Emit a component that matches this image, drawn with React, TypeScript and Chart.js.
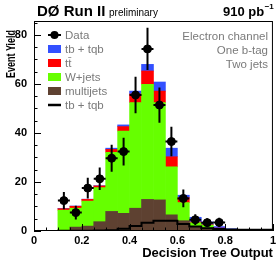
import React, { useEffect, useRef } from "react";
import { Chart, registerables } from "chart.js";

Chart.register(...registerables);

const FONT = '"Liberation Sans", Arial, Helvetica, sans-serif';

// 20 bins of width 0.05 on the Decision Tree Output axis
const binCenters = [
  0.025, 0.075, 0.125, 0.175, 0.225, 0.275, 0.325, 0.375, 0.425, 0.475,
  0.525, 0.575, 0.625, 0.675, 0.725, 0.775, 0.825, 0.875, 0.925, 0.975,
];
const binEdges = [
  0, 0.05, 0.1, 0.15, 0.2, 0.25, 0.3, 0.35, 0.4, 0.45, 0.5,
  0.55, 0.6, 0.65, 0.7, 0.75, 0.8, 0.85, 0.9, 0.95, 1.0,
];

// stacked backgrounds (bottom to top)
const multijets = [0, 0, 0.2, 1.6, 2.0, 3.8, 8.0, 7.2, 9.3, 12.9, 12.7, 6.6, 4.2, 1.8, 1.3, 0.5, 0.3, 0.2, 0.1, 0.1];
const wjets = [0, 0, 8.3, 7.7, 10.2, 13.9, 24.1, 33.6, 43.1, 47.0, 39.7, 19.6, 7.4, 1.6, 1.1, 0.5, 0.2, 0.1, 0.1, 0.05];
const ttbar = [0, 0, 0.6, 0.8, 0.7, 0.7, 1.2, 1.8, 3.5, 5.4, 4.7, 4.1, 2.0, 0.3, 0.2, 0.2, 0.1, 0.05, 0.05, 0.05];
const tbtqbStacked = [0, 0, 0.1, 0.1, 0.1, 0.1, 0.5, 0.7, 1.2, 2.7, 3.7, 3.5, 1.0, 1.9, 1.1, 0.6, 0.3, 0.2, 0.2, 0.2];

// unstacked signal outline
const tbtqbLine = [0.05, 0.05, 0.1, 0.1, 0.1, 0.2, 0.3, 0.9, 2.0, 3.4, 4.2, 4.2, 2.9, 1.8, 1.1, 0.8, 0.6, 0.5, 0.5, 0.5];

// data points
const dataX = [0.125, 0.175, 0.225, 0.275, 0.325, 0.375, 0.425, 0.475, 0.525, 0.575, 0.625, 0.675, 0.725, 0.775];
const dataY = [12.4, 7.5, 17.5, 21.3, 29.7, 32.4, 55.5, 74.3, 51.4, 36.5, 13.3, 4.6, 3.4, 3.5];
const dataErr = [3.5, 2.8, 4.2, 4.6, 5.5, 5.7, 7.4, 8.6, 7.2, 6.0, 3.6, 2.2, 1.8, 1.9];
const dataXErr = 0.025;

const xTicks = [0, 0.2, 0.4, 0.6, 0.8, 1];
const xTickLabels = ["0", "0.2", "0.4", "0.6", "0.8", "1"];
const yTicks = [0, 20, 40, 60, 80];
const yTickLabels = ["0", "20", "40", "60", "80"];

const COLORS = {
  tb: "#3350ff",
  tt: "#ff0000",
  wj: "#66ff00",
  mj: "#5e4131",
  text: "#7a7a7a",
};

const decorPlugin = {
  id: "decor",
  afterDatasetsDraw(chart: any) {
    const { ctx, scales } = chart;
    const x = scales.x;
    const y = scales.y;
    ctx.save();
    ctx.strokeStyle = "#000";
    ctx.lineWidth = 2;
    for (let i = 0; i < dataX.length; i++) {
      const px = x.getPixelForValue(dataX[i]);
      const py = y.getPixelForValue(dataY[i]);
      ctx.beginPath();
      ctx.moveTo(px, y.getPixelForValue(dataY[i] - dataErr[i]));
      ctx.lineTo(px, y.getPixelForValue(dataY[i] + dataErr[i]));
      ctx.moveTo(x.getPixelForValue(dataX[i] - dataXErr), py);
      ctx.lineTo(x.getPixelForValue(dataX[i] + dataXErr), py);
      ctx.stroke();
    }
    ctx.restore();
  },
  afterDraw(chart: any) {
    const { ctx, chartArea: a, scales } = chart;
    const x = scales.x;
    const y = scales.y;
    ctx.save();
    // frame
    ctx.strokeStyle = "#000";
    ctx.lineWidth = 1;
    ctx.strokeRect(a.left + 0.5, a.top + 0.5, a.right - a.left - 1, a.bottom - a.top - 1);
    // inward ticks
    ctx.beginPath();
    for (let v = 0; v <= y.max + 1e-9; v += 5) {
      const py = Math.round(y.getPixelForValue(v)) + 0.5;
      const len = v % 20 === 0 ? 7 : 3.5;
      ctx.moveTo(a.left, py);
      ctx.lineTo(a.left + len, py);
    }
    for (let k = 0; k <= 20; k++) {
      const v = k * 0.05;
      const px = Math.round(x.getPixelForValue(v)) + 0.5;
      const len = k % 4 === 0 ? 7 : 3.5;
      ctx.moveTo(px, a.bottom);
      ctx.lineTo(px, a.bottom - len);
    }
    ctx.stroke();

    // legend
    const ds = chart.data.datasets;
    const entries = [
      { label: ds[0].label, kind: "point", color: "#000" },
      { label: ds[5].label, kind: "box", color: ds[5].backgroundColor },
      { label: ds[4].label, kind: "box", color: ds[4].backgroundColor },
      { label: ds[3].label, kind: "box", color: ds[3].backgroundColor },
      { label: ds[2].label, kind: "box", color: ds[2].backgroundColor },
      { label: ds[1].label, kind: "line", color: "#000" },
    ];
    const lx = 48;
    const lw = 13;
    let ly = 35;
    ctx.font = `11.5px ${FONT}`;
    ctx.textBaseline = "middle";
    ctx.textAlign = "left";
    for (const e of entries) {
      if (e.kind === "box") {
        ctx.fillStyle = e.color;
        ctx.fillRect(lx, ly - 4, lw, 8);
      } else if (e.kind === "line") {
        ctx.strokeStyle = "#000";
        ctx.lineWidth = 2.5;
        ctx.beginPath();
        ctx.moveTo(lx, ly);
        ctx.lineTo(lx + lw, ly);
        ctx.stroke();
      } else {
        ctx.strokeStyle = "#000";
        ctx.lineWidth = 2;
        ctx.beginPath();
        ctx.moveTo(lx, ly);
        ctx.lineTo(lx + lw, ly);
        ctx.stroke();
        ctx.fillStyle = "#000";
        ctx.beginPath();
        ctx.arc(lx + lw / 2, ly, 4, 0, Math.PI * 2);
        ctx.fill();
      }
      ctx.fillStyle = COLORS.text;
      ctx.fillText(e.label, lx + lw + 4, ly + 0.5);
      ly += 14;
    }

    // channel text
    ctx.textAlign = "right";
    ctx.fillStyle = COLORS.text;
    ctx.fillText("Electron channel", 268, 37);
    ctx.fillText("One b-tag", 268, 51);
    ctx.fillText("Two jets", 268, 64.5);

    // header
    ctx.fillStyle = "#000";
    ctx.textAlign = "left";
    ctx.textBaseline = "alphabetic";
    ctx.font = `bold 15px ${FONT}`;
    ctx.fillText("DØ Run II", 37, 16);
    ctx.font = `10px ${FONT}`;
    ctx.fillText("preliminary", 109, 16);
    ctx.font = `bold 13px ${FONT}`;
    ctx.fillText("910 pb", 223, 16);
    const w = ctx.measureText("910 pb").width;
    ctx.font = `bold 8px ${FONT}`;
    ctx.fillText("\u22121", 223 + w + 0.5, 9);

    // axis titles
    ctx.font = `bold 13px ${FONT}`;
    ctx.textAlign = "right";
    ctx.fillText("Decision Tree Output", a.right, 257);
    ctx.save();
    ctx.translate(15, 30);
    ctx.rotate(-Math.PI / 2);
    const tw = ctx.measureText("Event Yield").width;
    ctx.scale(48 / tw, 1);
    ctx.textAlign = "right";
    ctx.fillText("Event Yield", 0, 0);
    ctx.restore();

    ctx.restore();
  },
};

export default function App() {
  const ref = useRef<HTMLCanvasElement | null>(null);

  useEffect(() => {
    document.body.style.margin = "0";
    const canvas = ref.current;
    if (!canvas) return;
    const bar = (label: string, values: number[], color: string) => ({
      type: "bar" as const,
      label,
      data: binCenters.map((x, i) => ({ x, y: values[i] })),
      backgroundColor: color,
      borderWidth: 0,
      stack: "bg",
      order: 2,
      barPercentage: 1,
      categoryPercentage: 1,
    });
    const chart = new Chart(canvas, {
      type: "bar",
      data: {
        datasets: [
          {
            type: "scatter",
            label: "Data",
            data: dataX.map((x, i) => ({ x, y: dataY[i] })),
            backgroundColor: "#000",
            borderColor: "#000",
            pointRadius: 4,
            pointHoverRadius: 4,
            order: 0,
          } as any,
          {
            type: "line",
            label: "tb + tqb",
            data: binEdges.map((x, i) => ({ x, y: tbtqbLine[Math.min(i, tbtqbLine.length - 1)] })),
            stepped: true,
            borderColor: "#000",
            borderWidth: 2,
            pointRadius: 0,
            fill: false,
            order: 1,
          } as any,
          bar("multijets", multijets, COLORS.mj),
          bar("W+jets", wjets, COLORS.wj),
          bar("tt\u0304", ttbar, COLORS.tt),
          bar("tb + tqb", tbtqbStacked, COLORS.tb),
        ],
      },
      options: {
        animation: false,
        responsive: false,
        events: [],
        layout: { padding: { top: 21, right: 3, left: 0, bottom: 0 } },
        plugins: { legend: { display: false }, tooltip: { enabled: false } },
        scales: {
          x: {
            type: "linear",
            min: 0,
            max: 1,
            offset: false,
            stacked: true,
            grid: { display: false, drawTicks: false, offset: false },
            border: { display: false },
            afterBuildTicks: (s: any) => {
              s.ticks = xTicks.map((v) => ({ value: v }));
            },
            afterFit: (s: any) => {
              s.height = 31;
            },
            ticks: {
              autoSkip: false,
              maxRotation: 0,
              padding: 3,
              color: "#000",
              font: { family: FONT, size: 11, weight: "bold" },
              callback: (_v: any, i: number) => xTickLabels[i],
            },
          },
          y: {
            type: "linear",
            min: 0,
            max: 85.7,
            stacked: true,
            grid: { display: false, drawTicks: false },
            border: { display: false },
            afterBuildTicks: (s: any) => {
              s.ticks = yTicks.map((v) => ({ value: v }));
            },
            afterFit: (s: any) => {
              s.width = 34;
            },
            ticks: {
              autoSkip: false,
              padding: 7,
              color: "#000",
              font: { family: FONT, size: 11, weight: "bold" },
              callback: (_v: any, i: number) => yTickLabels[i],
            },
          },
        },
      } as any,
      plugins: [decorPlugin],
    });
    return () => chart.destroy();
  }, []);

  return (
    <div style={{ width: 279, height: 262 }}>
      <canvas ref={ref} width={279} height={262} style={{ display: "block" }} />
    </div>
  );
}
